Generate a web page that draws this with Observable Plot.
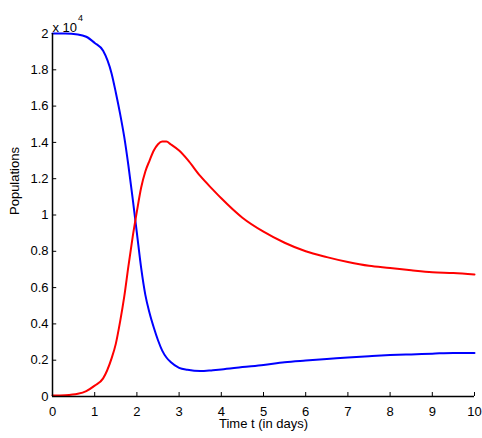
<!DOCTYPE html>
<html>
<head>
<meta charset="utf-8">
<script src="https://cdn.jsdelivr.net/npm/d3@7"></script>
<script src="https://cdn.jsdelivr.net/npm/@observablehq/plot@0.6"></script>
<style>
  html, body { margin: 0; padding: 0; background: #fff; }
  #chart svg { font-family: "Liberation Sans", Arial, sans-serif; }
</style>
</head>
<body>
<div id="chart"></div>
<script>
const t = [0, 0.3, 0.6, 0.8, 1.0, 1.2, 1.4, 1.5, 1.6, 1.7, 1.8, 1.9, 2.0, 2.1, 2.2, 2.3, 2.4, 2.5, 2.6, 2.7, 2.8, 3.0, 3.2, 3.5, 3.8, 4.0, 4.5, 5.0, 5.5, 6.0, 6.5, 7.0, 7.5, 8.0, 8.5, 9.0, 9.5, 10];
const blue = [2.0, 2.0, 1.995, 1.982, 1.948, 1.905, 1.78, 1.675, 1.56, 1.43, 1.27, 1.09, 0.90, 0.71, 0.56, 0.46, 0.38, 0.31, 0.253, 0.215, 0.19, 0.158, 0.147, 0.14, 0.145, 0.149, 0.162, 0.174, 0.189, 0.198, 0.206, 0.215, 0.222, 0.228, 0.232, 0.236, 0.24, 0.24];
const red = [0.005, 0.007, 0.015, 0.03, 0.06, 0.10, 0.21, 0.29, 0.41, 0.55, 0.72, 0.88, 1.02, 1.15, 1.24, 1.30, 1.355, 1.39, 1.405, 1.405, 1.39, 1.355, 1.305, 1.215, 1.14, 1.092, 0.985, 0.908, 0.847, 0.80, 0.768, 0.741, 0.72, 0.708, 0.695, 0.684, 0.68, 0.672];
const xTicks = [0, 1, 2, 3, 4, 5, 6, 7, 8, 9, 10];
const yTicks = [0, 0.2, 0.4, 0.6, 0.8, 1, 1.2, 1.4, 1.6, 1.8, 2];

const blueData = t.map((x, i) => ({t: x, v: blue[i]}));
const redData = t.map((x, i) => ({t: x, v: red[i]}));

const chart = Plot.plot({
  width: 482,
  height: 438,
  marginLeft: 52,
  marginRight: 8,
  marginTop: 33,
  marginBottom: 42,
  style: {fontSize: "13px", fontFamily: "'Liberation Sans', Arial, sans-serif", background: "#fff", color: "#000"},
  x: {domain: [0, 10]},
  y: {domain: [0, 2]},
  marks: [
    Plot.axisX({ticks: xTicks, tickSize: 0, tickPadding: 10, label: null, fontSize: 13, tickFormat: d => String(d)}),
    Plot.axisY({ticks: yTicks, tickSize: 0, tickPadding: 4, label: null, fontSize: 13, tickFormat: d => String(d)}),
    Plot.ruleY(yTicks, {y: d => d, x1: 0, x2: 0.1, stroke: "#000", strokeWidth: 1}),
    Plot.ruleX(xTicks, {x: d => d, y1: 0, y2: 0.022, stroke: "#000", strokeWidth: 1}),
    Plot.line(blueData, {x: "t", y: "v", stroke: "#0000ff", strokeWidth: 2, curve: "monotone-x"}),
    Plot.line(redData, {x: "t", y: "v", stroke: "#ff0000", strokeWidth: 2, curve: "monotone-x"}),
    Plot.ruleX([0], {stroke: "#000", strokeWidth: 1.5}),
    Plot.ruleY([0], {stroke: "#000", strokeWidth: 1.5}),
    Plot.text(["Populations"], {frameAnchor: "left", dx: -38, rotate: -90, fontSize: 13, fill: "#000"}),
    Plot.text(["Time t (in days)"], {frameAnchor: "bottom", dy: 31, fontSize: 13, fill: "#000"}),
    Plot.text(["x 10"], {frameAnchor: "top-left", dy: -11, textAnchor: "start", fontSize: 13, fill: "#000"}),
    Plot.text(["4"], {frameAnchor: "top-left", dx: 25.5, dy: -19, textAnchor: "start", fontSize: 9, fill: "#000"})
  ]
});
document.getElementById("chart").appendChild(chart);
</script>
</body>
</html>
